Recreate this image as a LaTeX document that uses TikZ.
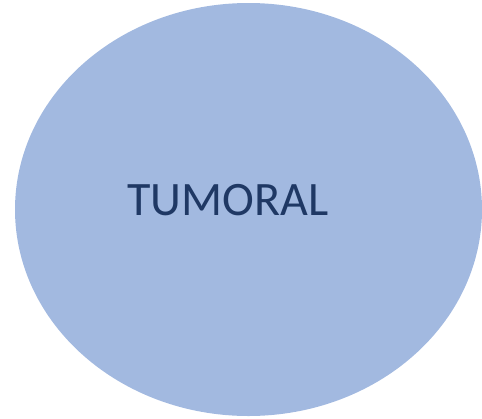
\documentclass[tikz,border=0pt]{standalone}
\usepackage{fontspec}
\setmainfont{Carlito}
\usetikzlibrary{shapes.geometric}
\definecolor{blob area}{HTML}{A2B9E0}
\definecolor{blob text}{HTML}{1F3864}
\tikzset{blob/.style={ellipse, fill=blob area, draw=none, inner sep=0pt},
    label text/.style={text=blob text, font=\fontsize{48}{52}\selectfont, inner sep=0pt}}

\begin{document}
\begin{tikzpicture}[x=1pt, y=-1pt]
    % fixed frame
    \useasboundingbox (0,0) rectangle (482,418);
    \node[blob, minimum width=467pt, minimum height=413pt] (tumor) at (248.5,209.5) {};
    \node[label text, anchor=base west] (name) at (127,215) {TUMORAL};
\end{tikzpicture}
\end{document}
